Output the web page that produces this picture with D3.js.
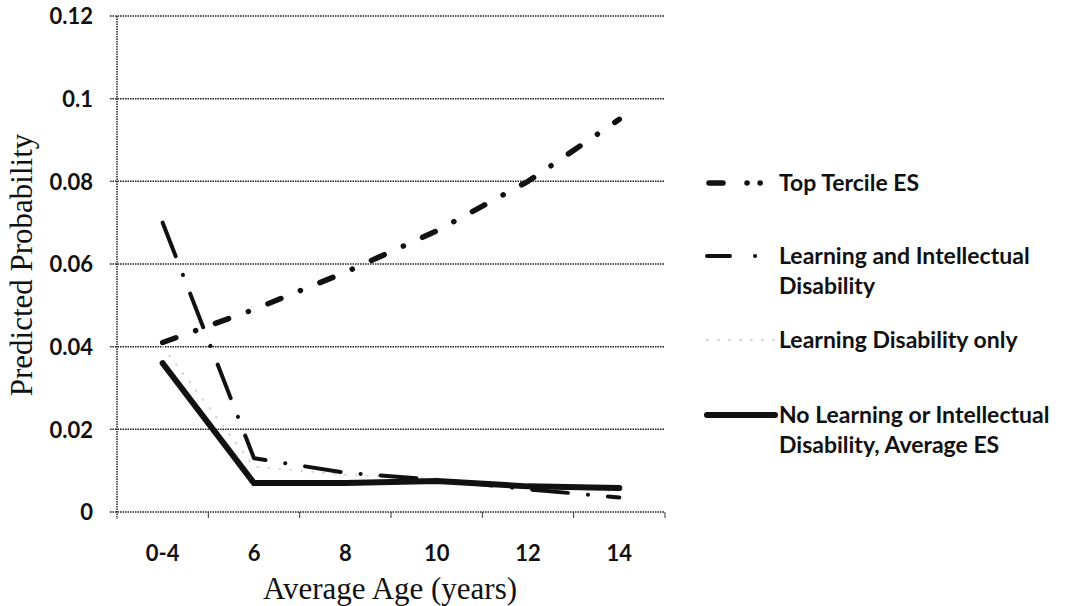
<html>
<head>
<script src="https://d3js.org/d3.v7.min.js"></script>
<style>
  body { margin: 0; background: white; }
  .tick-label { font-family: Lato, "Open Sans", sans-serif; font-weight: bold; font-size: 22px; fill: #111; }
  .axis-title { font-family: "Liberation Serif", "Times New Roman", serif; font-size: 31px; fill: #111; }
  .legend-label { font-family: Lato, "Open Sans", sans-serif; font-weight: bold; font-size: 23px; fill: #111; }
</style>
</head>
<body>
<svg width="1065" height="606"></svg>
<script>
// categories and values
var ages = ["0-4", "6", "8", "10", "12", "14"];
var yTicks = [0, 0.02, 0.04, 0.06, 0.08, 0.1, 0.12];

var topTercile = [0.041, 0.049, 0.058, 0.068, 0.080, 0.095];
var learnIntel = [0.070, 0.013, 0.0095, 0.0078, 0.0055, 0.0035];
var learnOnly = [0.040, 0.011, 0.0090, 0.0080, 0.0062, 0.0050];
var noLearn = [0.036, 0.007, 0.007, 0.0075, 0.0062, 0.0058];

var seriesNames = ["Top Tercile ES", "Learning and Intellectual|Disability", "Learning Disability only", "No Learning or Intellectual|Disability, Average ES"];

{
var svg = d3.select("svg");
var mLeft = 117, mRight = 665, mTop = 16, mBottom = 512;

var x = d3.scaleBand().domain(ages).range([mLeft, mRight]).paddingInner(0).paddingOuter(0);
var y = d3.scaleLinear().domain([0, 0.12]).range([mBottom, mTop]);
var cx = function(c) { return x(c) + x.bandwidth() / 2; };

// gridlines
svg.append("g").selectAll("line").data(yTicks).enter().append("line")
  .attr("x1", mLeft - 7).attr("x2", mRight)
  .attr("y1", d => y(d)).attr("y2", d => y(d))
  .attr("stroke", "#222").attr("stroke-width", 1.5)
  .attr("stroke-dasharray", "1.5,1");

// y axis line
svg.append("line")
  .attr("x1", mLeft).attr("x2", mLeft).attr("y1", mTop).attr("y2", mBottom + 7)
  .attr("stroke", "#222").attr("stroke-width", 1.5).attr("stroke-dasharray", "1.5,1");

// x tick marks at band boundaries
svg.append("g").selectAll("line").data(ages.slice(1)).enter().append("line")
  .attr("x1", d => x(d)).attr("x2", d => x(d))
  .attr("y1", mBottom).attr("y2", mBottom + 6)
  .attr("stroke", "#333").attr("stroke-width", 1);
svg.append("line")
  .attr("x1", mRight).attr("x2", mRight).attr("y1", mBottom).attr("y2", mBottom + 6)
  .attr("stroke", "#333").attr("stroke-width", 1);

// y tick labels
var yAxis = svg.append("g")
  .attr("transform", "translate(" + (mLeft - 21) + ",0)")
  .call(d3.axisLeft(y).tickValues(yTicks).tickSize(0).tickFormat(d => d === 0 ? "0" : d3.format("~g")(d)));
yAxis.select(".domain").remove();
yAxis.selectAll("text").attr("class", "tick-label").attr("dy", "0.35em").attr("font-size", null).attr("font-family", null).attr("fill", null);

// x tick labels
var xAxis = svg.append("g")
  .attr("transform", "translate(0," + (mBottom + 38) + ")")
  .call(d3.axisBottom(x).tickSize(0));
xAxis.select(".domain").remove();
xAxis.selectAll("text").attr("class", "tick-label").attr("dy", "0.35em").attr("font-size", null).attr("font-family", null).attr("fill", null);

// axis titles
svg.append("text").attr("class", "axis-title")
  .attr("transform", "translate(32,265) rotate(-90)")
  .style("text-anchor", "middle")
  .text("Predicted Probability");
svg.append("text").attr("class", "axis-title")
  .attr("x", 390).attr("y", 599)
  .style("text-anchor", "middle")
  .text("Average Age (years)");

var styles = [
  { data: topTercile, color: "#111", width: 5.5, dash: "14,21,0.1,21" },
  { data: learnIntel, color: "#111", width: 4, dash: "36,20,0.1,20" },
  { data: learnOnly, color: "#d0d0d0", width: 1.8, dash: "1,10" },
  { data: noLearn, color: "#111", width: 6, dash: null }
];

var line = d3.line()
  .x((d, i) => cx(ages[i]))
  .y(d => y(d));

// draw in order: light first, solid last
[2, 1, 0, 3].forEach(function(k) {
  var s = styles[k];
  svg.append("path")
    .datum(s.data)
    .attr("d", line)
    .attr("fill", "none")
    .attr("stroke", s.color)
    .attr("stroke-width", s.width)
    .attr("stroke-linecap", "round")
    .attr("stroke-linejoin", "round")
    .attr("stroke-dasharray", s.dash);
});

// legend
var legendY = [183, 256, 340, 415];
var legendX = [[709, 761], [707, 756], [707, 774], [707, 775]];
var legendDash = ["14,24,0.1,13,0.1,100", "23,25,0.1,100", "1,10", null];
styles.forEach(function(s, i) {
  svg.append("line")
    .attr("x1", legendX[i][0]).attr("x2", legendX[i][1])
    .attr("y1", legendY[i]).attr("y2", legendY[i])
    .attr("stroke", s.color)
    .attr("stroke-width", s.width)
    .attr("stroke-linecap", "round")
    .attr("stroke-dasharray", legendDash[i]);
  var t = svg.append("text").attr("class", "legend-label")
    .attr("x", 779).attr("y", legendY[i]);
  seriesNames[i].split("|").forEach(function(part, j) {
    t.append("tspan").attr("x", 779).attr("dy", j === 0 ? "0.35em" : "1.3em").text(part);
  });
});
}
</script>
</body>
</html>
